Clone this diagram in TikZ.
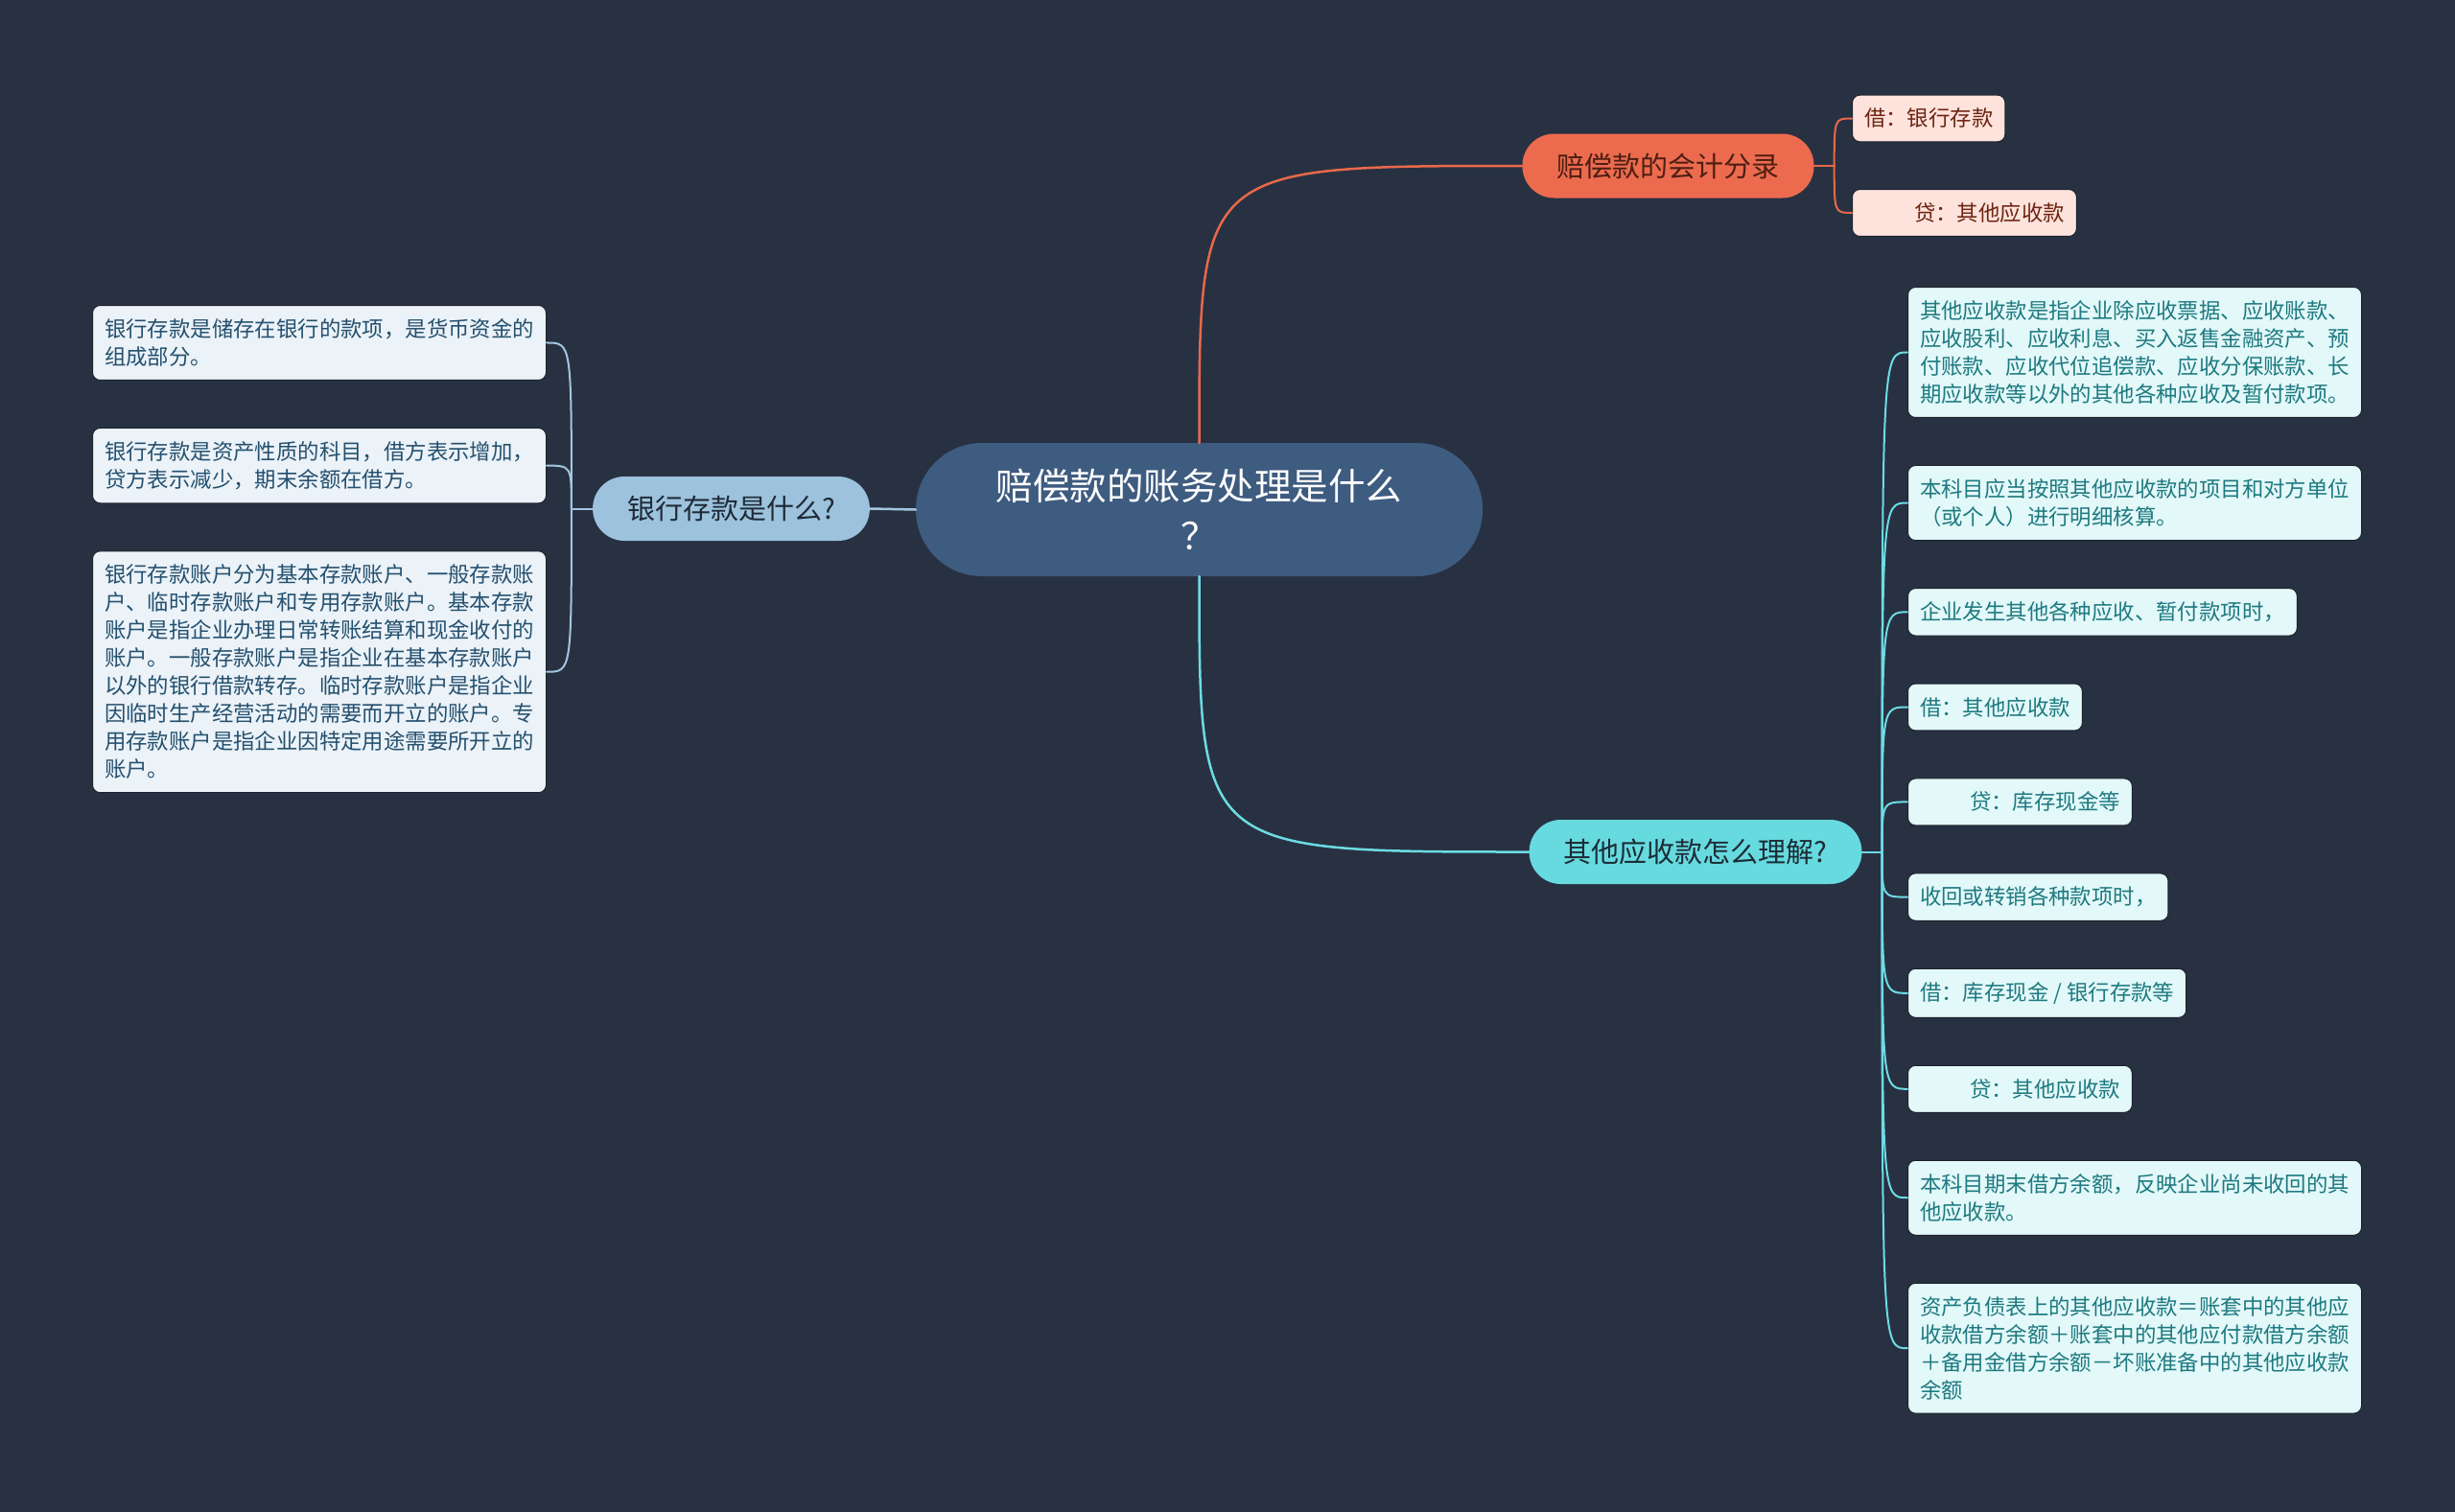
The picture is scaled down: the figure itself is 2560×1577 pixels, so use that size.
\documentclass[tikz,border=0pt]{standalone}
\usepackage{fontspec}
\setmainfont{Noto Sans CJK SC}
\usepackage{tikz}
\usetikzlibrary{positioning}
\usepackage{xcolor}
\definecolor{bgnavy}{HTML}{283142}
\definecolor{rootfill}{HTML}{3E5B80}
\definecolor{orangefill}{HTML}{EC6B4E}
\definecolor{orangetext}{HTML}{4D1F12}
\definecolor{orangelink}{HTML}{E8694A}
\definecolor{orangeleaffill}{HTML}{FDE3DC}
\definecolor{orangeleaftext}{HTML}{6E2410}
\definecolor{cyanfill}{HTML}{66DADF}
\definecolor{cyantext}{HTML}{1C2C36}
\definecolor{cyanlink}{HTML}{6CDCE2}
\definecolor{cyanleaffill}{HTML}{E3F8F9}
\definecolor{cyanleaftext}{HTML}{1D7A80}
\definecolor{bluefill}{HTML}{9CC2DD}
\definecolor{bluetext}{HTML}{1F2A36}
\definecolor{bluelink}{HTML}{A3C6DF}
\definecolor{blueleaffill}{HTML}{EBF2F8}
\definecolor{blueleaftext}{HTML}{24506E}
\definecolor{leafedge}{HTML}{1C222C}

\begin{document}
\begin{tikzpicture}[
        x=1pt, y=-1pt,
        node distance=49pt,
        every node/.style={font=\fontsize{22.4}{29}\selectfont},
        rootbox/.style={rectangle, fill=rootfill, text=white, rounded corners=69pt,
            minimum width=591pt, minimum height=139pt, align=center, inner sep=0pt,
            font=\fontsize{38.5}{52}\selectfont},
        branchbox/.style={rectangle, rounded corners=33pt, minimum height=67pt,
            inner xsep=36pt, inner ysep=0pt, font=\fontsize{29}{36}\selectfont},
        leafbox/.style={rectangle, draw=leafedge, line width=1pt, rounded corners=8pt,
            align=left, inner xsep=12.5pt, inner ysep=14pt},
        orangeleaf/.style={leafbox, fill=orangeleaffill, text=orangeleaftext},
        cyanleaf/.style={leafbox, fill=cyanleaffill, text=cyanleaftext},
        blueleaf/.style={leafbox, fill=blueleaffill, text=blueleaftext},
        link/.style={line width=2.5pt, line cap=round},
        leaflink/.style={line width=2pt, line cap=round},
    ]
    \fill[bgnavy] (0,0) rectangle (2560,1577);
    \useasboundingbox (0,0) rectangle (2560,1577);

    \node[rootbox] (root) at (1250.5,531.5) {赔偿款的账务处理是什么\\？};
    \node[branchbox, fill=orangefill, text=orangetext] (entry) at (1739.5,173) {赔偿款的会计分录};
    \node[branchbox, fill=cyanfill, text=cyantext] (other) at (1768,888.5) {其他应收款怎么理解?};
    \node[branchbox, fill=bluefill, text=bluetext] (bank) at (762.5,530.5) {银行存款是什么?};

    \node[orangeleaf, anchor=west] (debit) at (1931,123.5) {借：银行存款};
    \node[orangeleaf, anchor=west] (credit) at (1931,222) {\hspace*{52pt}贷：其他应收款};

    \node[cyanleaf, anchor=north west] (q1) at (1989,299) {其他应收款是指企业除应收票据、应收账款、\\应收股利、应收利息、买入返售金融资产、预\\付账款、应收代位追偿款、应收分保账款、长\\期应收款等以外的其他各种应收及暂付款项。};
    \node[cyanleaf, below=of q1.south west, anchor=north west] (q2) {本科目应当按照其他应收款的项目和对方单位\\（或个人）进行明细核算。};
    \node[cyanleaf, below=of q2.south west, anchor=north west] (q3) {企业发生其他各种应收、暂付款项时，};
    \node[cyanleaf, below=of q3.south west, anchor=north west] (q4) {借：其他应收款};
    \node[cyanleaf, below=of q4.south west, anchor=north west] (q5) {\hspace*{52pt}贷：库存现金等};
    \node[cyanleaf, below=of q5.south west, anchor=north west] (q6) {收回或转销各种款项时，};
    \node[cyanleaf, below=of q6.south west, anchor=north west] (q7) {借：库存现金 / 银行存款等};
    \node[cyanleaf, below=of q7.south west, anchor=north west] (q8) {\hspace*{52pt}贷：其他应收款};
    \node[cyanleaf, below=of q8.south west, anchor=north west] (q9) {本科目期末借方余额，反映企业尚未收回的其\\他应收款。};
    \node[cyanleaf, below=of q9.south west, anchor=north west] (q10) {资产负债表上的其他应收款＝账套中的其他应\\收款借方余额＋账套中的其他应付款借方余额\\＋备用金借方余额－坏账准备中的其他应收款\\余额};

    \node[blueleaf, anchor=north west] (b1) at (96,318) {银行存款是储存在银行的款项，是货币资金的\\组成部分。};
    \node[blueleaf, below=of b1.south west, anchor=north west] (b2) {银行存款是资产性质的科目，借方表示增加，\\贷方表示减少，期末余额在借方。};
    \node[blueleaf, below=of b2.south west, anchor=north west] (b3) {银行存款账户分为基本存款账户、一般存款账\\户、临时存款账户和专用存款账户。基本存款\\账户是指企业办理日常转账结算和现金收付的\\账户。一般存款账户是指企业在基本存款账户\\以外的银行借款转存。临时存款账户是指企业\\因临时生产经营活动的需要而开立的账户。专\\用存款账户是指企业因特定用途需要所开立的\\账户。};

    \draw[link, orangelink] (root.north) .. controls (root.north |- entry.west) .. (entry.west);
    \draw[link, cyanlink] (root.south) .. controls (root.south |- other.west) .. (other.west);
    \draw[link, bluelink] (root.west) -- (bank.east);

    \coordinate (entryfork) at ([xshift=21pt]entry.east);
    \draw[leaflink, orangelink] (entry.east) -- (entryfork);
    \foreach \leaf in {debit, credit}
        \draw[leaflink, orangelink] (entryfork) .. controls (entryfork |- \leaf.west) .. (\leaf.west);

    \coordinate (otherfork) at ([xshift=21pt]other.east);
    \draw[leaflink, cyanlink] (other.east) -- (otherfork);
    \foreach \n in {1,...,10}
        \draw[leaflink, cyanlink] (otherfork) .. controls (otherfork |- q\n.west) .. (q\n.west);

    \coordinate (bankfork) at ([xshift=-22pt]bank.west);
    \draw[leaflink, bluelink] (bank.west) -- (bankfork);
    \foreach \n in {1,2,3}
        \draw[leaflink, bluelink] (bankfork) .. controls (bankfork |- b\n.east) .. (b\n.east);
\end{tikzpicture}
\end{document}
